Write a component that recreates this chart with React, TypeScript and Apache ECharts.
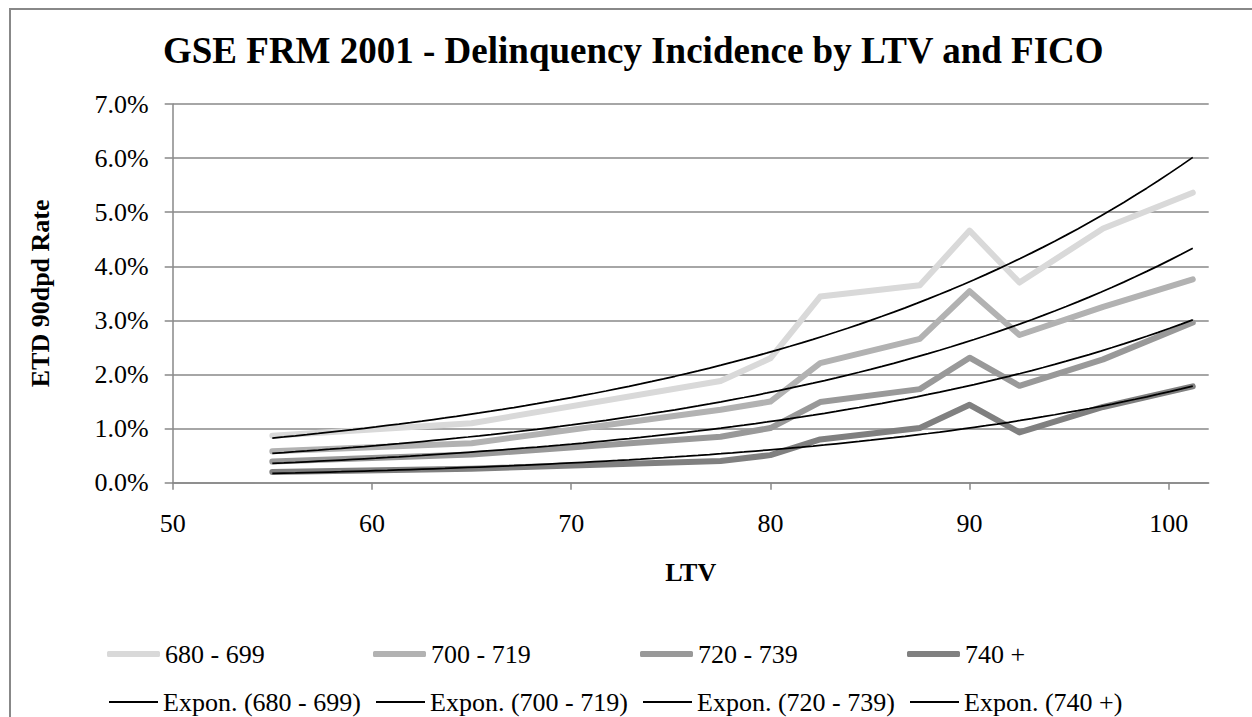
import React, { useEffect, useRef } from "react";
import * as echarts from "echarts";

const FONT = '"Liberation Serif", "Times New Roman", serif';

const TITLE = "GSE FRM 2001 - Delinquency Incidence by LTV and FICO";
const X_NAME = "LTV";
const Y_NAME = "ETD 90dpd Rate";

// LTV bucket positions
const LTV = [55, 65, 77.5, 80, 82.5, 87.5, 90, 92.5, 96.7, 101.2];

// ETD 90dpd rate (%) by FICO band
const NAMES = ["680 - 699", "700 - 719", "720 - 739", "740 +"];
const S680 = [0.87, 1.1, 1.88, 2.3, 3.44, 3.65, 4.66, 3.7, 4.7, 5.36];
const S700 = [0.58, 0.73, 1.35, 1.5, 2.21, 2.66, 3.54, 2.73, 3.25, 3.76];
const S720 = [0.39, 0.52, 0.85, 1.01, 1.49, 1.73, 2.31, 1.79, 2.28, 2.96];
const S740 = [0.2, 0.26, 0.4, 0.51, 0.8, 1.01, 1.44, 0.93, 1.4, 1.78];
const SERIES = [S680, S700, S720, S740];
const COLORS = ["#d9d9d9", "#b2b2b2", "#999999", "#808080"];

const X_TICKS = [50, 60, 70, 80, 90, 100];
const Y_MIN = 0;
const Y_MAX = 7;
const Y_STEP = 1;
const X_MIN = 50;
const X_MAX = 102;

// Excel-style exponential trendline: least squares on ln(y)
function expFit(xs: number[], ys: number[]) {
  const n = xs.length;
  const ly = ys.map((v) => Math.log(v));
  const mx = xs.reduce((s, v) => s + v, 0) / n;
  const my = ly.reduce((s, v) => s + v, 0) / n;
  let sxy = 0;
  let sxx = 0;
  for (let i = 0; i < n; i++) {
    sxy += (xs[i] - mx) * (ly[i] - my);
    sxx += (xs[i] - mx) * (xs[i] - mx);
  }
  const b = sxy / sxx;
  const a = my - b * mx;
  return (x: number) => Math.exp(a + b * x);
}

function trendPoints(xs: number[], ys: number[]) {
  const f = expFit(xs, ys);
  const pts: number[][] = [];
  const x0 = xs[0];
  const x1 = xs[xs.length - 1];
  const steps = 80;
  for (let i = 0; i <= steps; i++) {
    const x = x0 + ((x1 - x0) * i) / steps;
    pts.push([x, f(x)]);
  }
  return pts;
}

export default function App() {
  const ref = useRef<HTMLDivElement>(null);

  useEffect(() => {
    if (!ref.current) return;
    const chart = echarts.init(ref.current, null, { renderer: "svg" });

    const textBase = { fontFamily: FONT, fontSize: 26, color: "#000" };

    const dataSeries = NAMES.map((name, i) => ({
      name,
      type: "line",
      data: LTV.map((x, j) => [x, SERIES[i][j]]),
      symbol: "none",
      lineStyle: { color: COLORS[i], width: 6, cap: "round", join: "round" },
      itemStyle: { color: COLORS[i] },
      z: 2,
    }));

    const trendSeries = NAMES.map((name, i) => ({
      name: `Expon. (${name})`,
      type: "line",
      data: trendPoints(LTV, SERIES[i]),
      symbol: "none",
      lineStyle: { color: "#000", width: 1.75 },
      itemStyle: { color: "#000" },
      z: 3,
    }));

    const colLeft1 = [107, 373, 640, 907];
    const colLeft2 = [109, 376, 643, 910];

    const legends: any[] = [];
    NAMES.forEach((name, i) => {
      legends.push({
        data: [name],
        left: colLeft1[i],
        top: 641,
        padding: 0,
        icon: "roundRect",
        itemWidth: 53,
        itemHeight: 6,
        selectedMode: false,
        textStyle: textBase,
      });
      legends.push({
        data: [`Expon. (${name})`],
        left: colLeft2[i],
        top: 689,
        padding: 0,
        icon: "rect",
        itemWidth: 49,
        itemHeight: 2,
        selectedMode: false,
        textStyle: textBase,
      });
    });

    const axisGrey = "#888888";

    chart.setOption({
      animation: false,
      backgroundColor: "#ffffff",
      title: {
        text: TITLE,
        left: 163,
        top: 32,
        padding: 0,
        textStyle: { fontFamily: FONT, fontSize: 37, fontWeight: "bold", color: "#000" },
      },
      grid: { left: 172.7, right: 43.3, top: 104, bottom: 234.3 },
      xAxis: {
        type: "value",
        min: X_MIN,
        max: X_MAX,
        interval: 10,
        name: X_NAME,
        nameLocation: "middle",
        nameGap: 77,
        nameTextStyle: { ...textBase, fontWeight: "bold" },
        axisLine: { show: true, lineStyle: { color: axisGrey, width: 1.5 } },
        axisTick: {
          show: true,
          length: 7,
          customValues: X_TICKS,
          lineStyle: { color: axisGrey, width: 1.5 },
        },
        axisLabel: { ...textBase, margin: 28, customValues: X_TICKS },
        splitLine: { show: false },
      },
      yAxis: {
        type: "value",
        min: Y_MIN,
        max: Y_MAX,
        interval: Y_STEP,
        name: Y_NAME,
        nameLocation: "middle",
        nameGap: 119,
        nameRotate: 90,
        nameTextStyle: { ...textBase, fontWeight: "bold" },
        axisLine: { show: true, lineStyle: { color: axisGrey, width: 1.5 } },
        axisTick: { show: true, length: 8, lineStyle: { color: axisGrey, width: 1.5 } },
        axisLabel: {
          ...textBase,
          margin: 24,
          formatter: (v: number) => `${v.toFixed(1)}%`,
        },
        splitLine: { show: true, lineStyle: { color: axisGrey, width: 1.5 } },
      },
      legend: legends,
      graphic: [
        {
          type: "rect",
          silent: true,
          z: -10,
          shape: { x: 10, y: 9, width: 1260, height: 730 },
          style: { fill: "none", stroke: "#888888", lineWidth: 2 },
        },
      ],
      series: [...dataSeries, ...trendSeries],
    });

    return () => chart.dispose();
  }, []);

  return (
    <div
      ref={ref}
      style={{ position: "absolute", left: 0, top: 0, width: 1252, height: 717 }}
    />
  );
}
